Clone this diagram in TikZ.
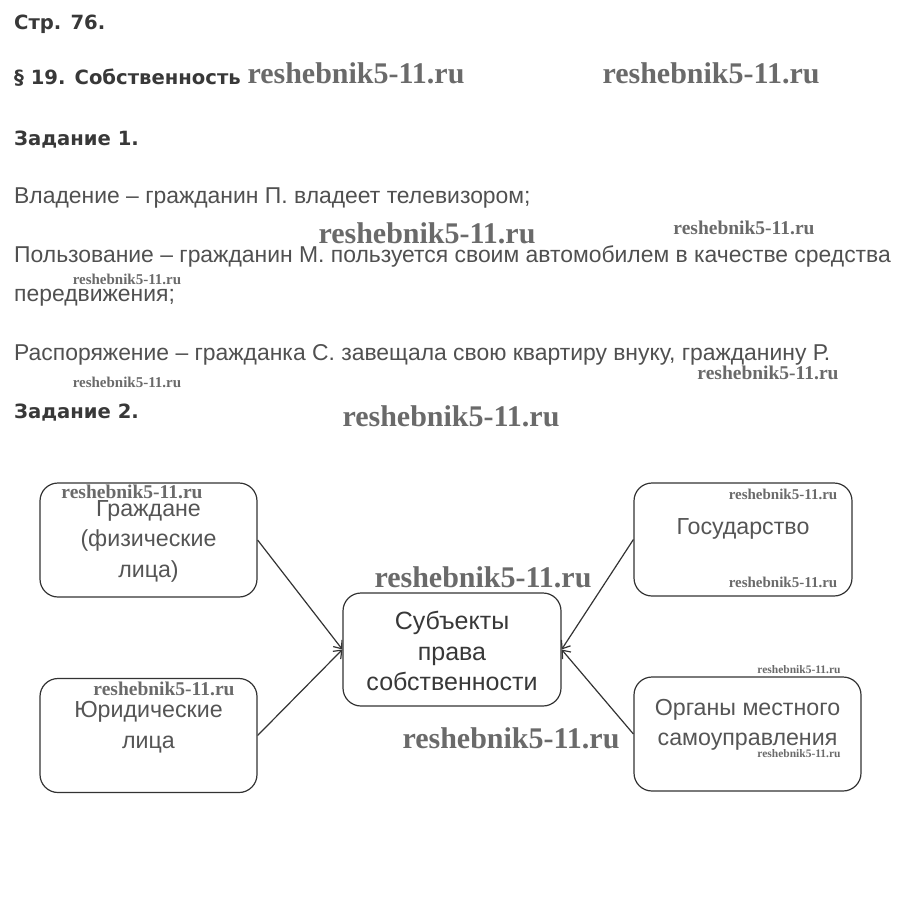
\documentclass[tikz,border=0pt]{standalone}
\usepackage{fontspec}
\setmainfont{Liberation Sans}
\newfontfamily\headfont{DejaVu Sans Bold}
\newfontfamily\wmfont{Liberation Serif}[BoldFont={Liberation Serif Bold}]
\usetikzlibrary{arrows.meta}
\definecolor{headc}{HTML}{383838}
\definecolor{bodyc}{HTML}{505050}
\definecolor{boxtc}{HTML}{555555}
\definecolor{linec}{HTML}{333333}
\definecolor{wmc}{HTML}{6A6A6A}
\newcommand\wmf[1]{\fontsize{#1}{#1}\wmfont\bfseries}
\tikzset{
  head/.style={anchor=base west, inner sep=0pt, text=headc, font=\headfont\fontsize{19.6}{23}\selectfont},
  body/.style={anchor=base west, inner sep=0pt, text=bodyc, font=\fontsize{22.9}{26}\selectfont},
  box/.style={draw=linec, line width=1.2pt, rounded corners=18pt, minimum width=217pt, minimum height=114pt, inner sep=0pt},
  boxtext/.style={align=center, text=boxtc, inner sep=0pt, font=\fontsize{23.2}{30.5}\selectfont},
  maintext/.style={align=center, text=headc, inner sep=0pt, font=\fontsize{25}{30.5}\selectfont},
  arr/.style={draw=linec, line width=1.2pt, -{Straight Barb[length=7pt,width=11pt]}},
  wm/.style={inner sep=0pt, text=wmc}
}
\begin{document}
\begin{tikzpicture}[x=1pt,y=-1pt]
\useasboundingbox (0,0) rectangle (905,919);
% headings and text
\node[head] (h1) at (14,29) {Стр. 76.};
\node[head] (h2) at (14,84) {§ 19. Собственность};
\node[head] (h3) at (14,145) {Задание 1.};
\node[body] (t1) at (14,203) {Владение – гражданин П. владеет телевизором;};
\node[body] (t2) at (14,262) {Пользование – гражданин М. пользуется своим автомобилем в качестве средства};
\node[body] (t3) at (14,301) {передвижения;};
\node[body] (t4) at (14,360) {Распоряжение – гражданка С. завещала свою квартиру внуку, гражданину Р.};
\node[head] (h4) at (14,418) {Задание 2.};
% boxes
\node[box] (gr) at (148.5,540) {};
\node[boxtext] (grt) at (148.5,541) {Граждане\\(физические\\лица)};
\node[box] (yu) at (148.5,735.5) {};
\node[boxtext] (yut) at (148.5,727) {Юридические\\лица};
\node[box, minimum width=218pt, minimum height=113pt] (sub) at (452,649.5) {};
\node[maintext] (subt) at (452,651) {Субъекты\\права\\собственности};
\node[box, minimum width=218pt, minimum height=113pt] (gos) at (743,539.5) {};
\node[boxtext] (gost) at (743,529) {Государство};
\node[box, minimum width=227pt, minimum height=114pt] (org) at (747.5,734) {};
\node[boxtext] (orgt) at (747.5,725) {Органы местного\\самоуправления};
% connectors
\draw[arr] (gr.east) -- (sub.west);
\draw[arr] (yu.east) -- (sub.west);
\draw[arr] (gos.west) -- (sub.east);
\draw[arr] (org.west) -- (sub.east);
% watermarks
\node[wm, font=\wmf{30}] (w1) at (356,73) {reshebnik5-11.ru};
\node[wm, font=\wmf{30}] (w2) at (711,73) {reshebnik5-11.ru};
\node[wm, font=\wmf{30}] (w3) at (427,233) {reshebnik5-11.ru};
\node[wm, font=\wmf{19.5}] (w4) at (744,228) {reshebnik5-11.ru};
\node[wm, font=\wmf{15}] (w5) at (127,279) {reshebnik5-11.ru};
\node[wm, font=\wmf{15}] (w6) at (127,382) {reshebnik5-11.ru};
\node[wm, font=\wmf{19.5}] (w7) at (768,373) {reshebnik5-11.ru};
\node[wm, font=\wmf{30}] (w8) at (451,416) {reshebnik5-11.ru};
\node[wm, font=\wmf{19.5}] (w9) at (132,492) {reshebnik5-11.ru};
\node[wm, font=\wmf{15}] (w10) at (783,494) {reshebnik5-11.ru};
\node[wm, font=\wmf{15}] (w11) at (783,582) {reshebnik5-11.ru};
\node[wm, font=\wmf{30}] (w12) at (483,577) {reshebnik5-11.ru};
\node[wm, font=\wmf{11.5}] (w13) at (799,670) {reshebnik5-11.ru};
\node[wm, font=\wmf{19.5}] (w14) at (164,689) {reshebnik5-11.ru};
\node[wm, font=\wmf{30}] (w15) at (511,738) {reshebnik5-11.ru};
\node[wm, font=\wmf{11.5}] (w16) at (799,754) {reshebnik5-11.ru};
\end{tikzpicture}
\end{document}
